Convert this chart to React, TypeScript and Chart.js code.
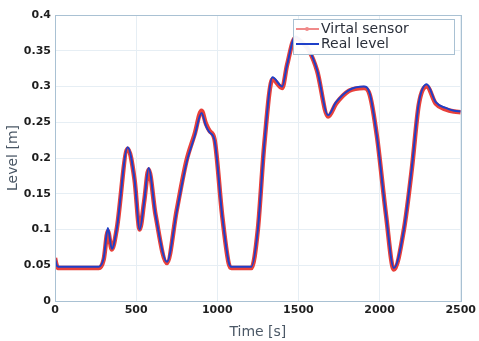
import React, { useEffect, useRef } from "react";
import { Chart, registerables } from "chart.js";

Chart.register(...registerables);

const timeS = [0, 10, 20, 270, 300, 326, 350, 380, 448, 490, 522, 550, 577, 620, 690, 750, 810, 860, 903, 930, 952, 983, 1030, 1070, 1087, 1210, 1250, 1290, 1340, 1400, 1430, 1480, 1530, 1566, 1615, 1683, 1732, 1812, 1904, 1940, 1984, 2040, 2088, 2150, 2199, 2242, 2291, 2346, 2408, 2460, 2500];
const realLevel = [0.06, 0.05, 0.048, 0.048, 0.06, 0.102, 0.073, 0.1, 0.215, 0.17, 0.1, 0.14, 0.186, 0.12, 0.055, 0.125, 0.193, 0.23, 0.263, 0.245, 0.236, 0.225, 0.12, 0.055, 0.048, 0.048, 0.1, 0.22, 0.313, 0.3, 0.33, 0.37, 0.36, 0.351, 0.323, 0.26, 0.278, 0.295, 0.3, 0.29, 0.23, 0.12, 0.046, 0.1, 0.187, 0.277, 0.303, 0.278, 0.27, 0.266, 0.265];
const virtualSensor = [0.06, 0.05, 0.046, 0.046, 0.058, 0.098, 0.072, 0.1, 0.213, 0.17, 0.1, 0.14, 0.184, 0.12, 0.053, 0.127, 0.196, 0.233, 0.266, 0.248, 0.238, 0.226, 0.12, 0.053, 0.046, 0.046, 0.1, 0.22, 0.31, 0.298, 0.33, 0.368, 0.36, 0.35, 0.322, 0.258, 0.276, 0.294, 0.298, 0.288, 0.23, 0.12, 0.044, 0.1, 0.185, 0.275, 0.3, 0.276, 0.268, 0.265, 0.264];
const xTicks = [0, 500, 1000, 1500, 2000, 2500];
const yTickLabels = ["0", "0.05", "0.1", "0.15", "0.2", "0.25", "0.3", "0.35", "0.4"];
const legendLabels = ["Virtal sensor", "Real level"];

const RED = "#e8403a";
const BLUE = "#1e3fc8";
const AXIS = "#a9c1d3";

const framePlugin = {
  id: "frame",
  afterDatasetsDraw(chart: any) {
    const { ctx, chartArea: a } = chart;
    ctx.save();
    ctx.strokeStyle = AXIS;
    ctx.lineWidth = 1;
    ctx.strokeRect(Math.round(a.left) + 0.5, Math.round(a.top) + 0.5, Math.round(a.right - a.left), Math.round(a.bottom - a.top));
    ctx.restore();
  },
};

const legendPlugin = {
  id: "boxLegend",
  afterDraw(chart: any) {
    const ctx = chart.ctx;
    const x0 = 293, y0 = 19, w = 161, h = 35;
    ctx.save();
    ctx.fillStyle = "rgba(255,255,255,0.95)";
    ctx.fillRect(x0, y0, w, h);
    ctx.strokeStyle = AXIS;
    ctx.lineWidth = 1;
    ctx.strokeRect(x0 + 0.5, y0 + 0.5, w, h);
    ctx.font = "14px 'DejaVu Sans', sans-serif";
    ctx.textBaseline = "middle";
    const rows = [
      { c: "#f08a8a", lw: 2, y: y0 + 10 },
      { c: BLUE, lw: 2, y: y0 + 25 },
    ];
    rows.forEach((r, i) => {
      ctx.strokeStyle = r.c;
      ctx.lineWidth = r.lw;
      ctx.beginPath();
      ctx.moveTo(x0 + 3, r.y);
      ctx.lineTo(x0 + 26, r.y);
      ctx.stroke();
      if (i === 0) {
        ctx.fillStyle = "#f08a8a";
        ctx.beginPath();
        ctx.arc(x0 + 14, r.y, 2, 0, Math.PI * 2);
        ctx.fill();
      }
      ctx.fillStyle = "#2a2f3a";
      ctx.fillText(legendLabels[i], x0 + 28, r.y);
    });
    ctx.restore();
  },
};

export default function App() {
  const ref = useRef<HTMLCanvasElement>(null);
  useEffect(() => {
    if (!ref.current) return;
    const chart = new Chart(ref.current, {
      type: "line",
      data: {
        datasets: [
          {
            label: legendLabels[1],
            data: timeS.map((t, i) => ({ x: t, y: realLevel[i] })),
            borderColor: BLUE,
            borderWidth: 2,
            pointRadius: 0,
            cubicInterpolationMode: "monotone",
            order: 0,
          },
          {
            label: legendLabels[0],
            data: timeS.map((t, i) => ({ x: t, y: virtualSensor[i] })),
            borderColor: RED,
            borderWidth: 4.5,
            pointRadius: 0,
            cubicInterpolationMode: "monotone",
            order: 1,
          },
        ],
      },
      options: {
        animation: false,
        responsive: false,
        layout: { padding: { top: 15, right: 13, left: 0, bottom: 0 } },
        plugins: { legend: { display: false }, tooltip: { enabled: false } },
        scales: {
          x: {
            type: "linear",
            min: 0,
            max: 2500,
            afterBuildTicks: (s: any) => { s.ticks = xTicks.map((v) => ({ value: v })); },
            afterFit: (s: any) => { s.height = 40; },
            grid: { color: "#e6eef4", drawTicks: false, lineWidth: 1 },
            border: { color: AXIS, width: 1 },
            ticks: {
              color: "#1e1e1e",
              font: { size: 11, weight: "bold", family: "'DejaVu Sans', sans-serif" },
              padding: 3,
              maxRotation: 0,
              callback: (v: any) => String(v),
            },
            title: { display: true, text: "Time [s]", color: "#4b5866", font: { size: 14, family: "'DejaVu Sans', sans-serif" }, padding: { top: -3, bottom: 0 } },
          },
          y: {
            min: 0,
            max: 0.4,
            afterBuildTicks: (s: any) => { s.ticks = yTickLabels.map((v) => ({ value: parseFloat(v) })); },
            afterFit: (s: any) => { s.width = 55; },
            grid: { color: "#e6eef4", drawTicks: false, lineWidth: 1 },
            border: { color: AXIS, width: 1 },
            ticks: {
              color: "#1e1e1e",
              font: { size: 11, weight: "bold", family: "'DejaVu Sans', sans-serif" },
              padding: 4,
              callback: (_v: any, i: number) => yTickLabels[i],
            },
            title: { display: true, text: "Level [m]", color: "#4b5866", font: { size: 14, family: "'DejaVu Sans', sans-serif" }, padding: { top: 5, bottom: 0 } },
          },
        },
      },
      plugins: [framePlugin, legendPlugin],
    } as any);
    return () => chart.destroy();
  }, []);
  return (
    <div style={{ position: "fixed", left: 0, top: 0, width: 479, height: 341, background: "#fff" }}>
      <canvas ref={ref} width={479} height={341} style={{ width: 479, height: 341 }} />
    </div>
  );
}
